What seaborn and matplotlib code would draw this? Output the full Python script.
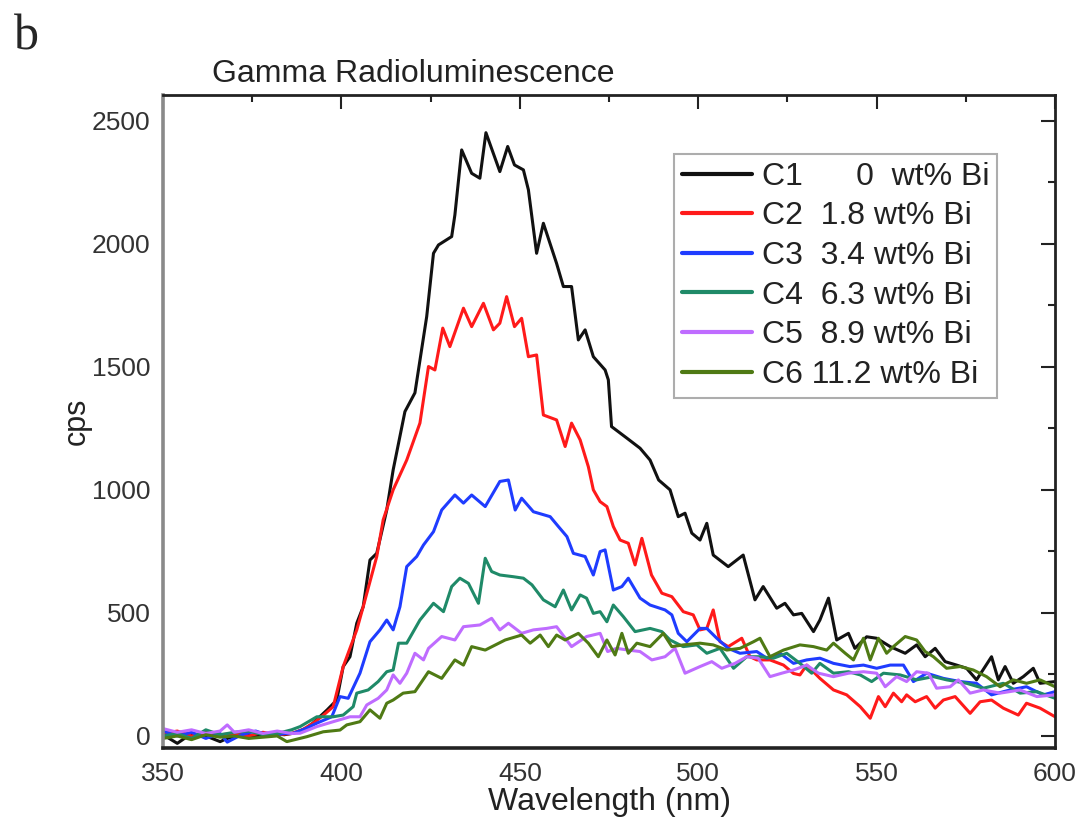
import numpy as np
import pandas as pd
import matplotlib
matplotlib.use("Agg")
import matplotlib.pyplot as plt
import seaborn as sns
from matplotlib.ticker import MultipleLocator

# wavelength (nm) / counts per second
c1_wl = [350, 354, 358, 362, 366, 368, 372, 376, 380, 384, 386.5, 390, 392, 396, 398.7, 400.5, 402.4, 404.3,
         406.1, 408, 409.9, 412.7, 414.5, 417.8, 420.6, 423.9, 425.8, 427.2, 430.9, 431.8, 433.7, 436.5, 438.8,
         440.5, 444.4, 446.6, 448.5, 451, 452.4, 454.7, 456.6, 460.3, 462.2, 464.5, 466.4, 468.3, 470.6, 473.9,
         474.8, 475.7, 480, 483.7, 486.5, 488.9, 492.1, 494.4, 496.3, 498.2, 500.5, 502.4, 504.2, 508.4, 512.6,
         515.9, 518.2, 522, 524.3, 526.7, 529, 532.3, 534.1, 536.5, 538.8, 542.1, 543.9, 547.2, 550, 553.8, 558,
         561.2, 563.6, 566.4, 569.2, 572.4, 575.2, 578, 582.2, 584.1, 586, 588.3, 591.1, 593.9, 595.8, 600]
c1_cps = [5, -30, 10, 0, -23, -10, 5, 0, 10, 5, 11, 30, 52, 106, 146, 282, 322, 458,
          525, 715, 742, 918, 1081, 1318, 1394, 1704, 1961, 1995, 2029, 2117, 2381, 2286, 2266,
          2451, 2293, 2395, 2320, 2300, 2219, 1961, 2083, 1920, 1826, 1826, 1609, 1650, 1541, 1487,
          1447, 1257, 1210, 1169, 1121, 1040, 1000, 891, 905, 824, 796, 864, 735, 688, 735,
          553, 607, 519, 539, 492, 498, 424, 471, 560, 390, 417, 356, 403, 397, 363, 336,
          370, 322, 356, 302, 288, 275, 228, 322, 228, 282, 214, 241, 275, 214, 221]

c2_wl = [350, 354, 358, 362, 366, 370, 374, 378, 382, 386, 389, 392.1, 395, 397.7, 400.5, 404.3, 406.1, 409.9,
         411.7, 414.5, 418.3, 422, 424.4, 426.2, 428.4, 430.4, 434.2, 436.5, 439.8, 442.6, 444.4, 446.3, 448.5,
         450.5, 452.4, 454.7, 456.6, 460.3, 462.7, 464.5, 466.9, 469.2, 470.6, 472.5, 474.4, 476.2, 478.1, 480.4,
         482.3, 484.2, 486.9, 489.8, 492.6, 495.8, 498.6, 500.5, 502.4, 504.2, 506.1, 508.4, 512.2, 514.5, 516.4,
         520.1, 523.9, 526.7, 528.5, 530.4, 534.1, 537.9, 541.6, 545.4, 548.2, 550.5, 552.4, 554.7, 557, 558.4,
         560.8, 564, 566.4, 568.7, 572, 576.2, 579, 582.2, 585.5, 589.7, 592, 595.8, 600]
c2_cps = [10, 20, 0, 15, 5, 10, 0, 15, 5, 10, 25, 52, 85, 119, 282, 431, 525, 729,
          878, 1000, 1121, 1271, 1501, 1487, 1657, 1582, 1738, 1663, 1758, 1650, 1677, 1785, 1663,
          1697, 1541, 1548, 1304, 1284, 1176, 1271, 1203, 1094, 1000, 952, 932, 851, 796, 783,
          695, 803, 654, 580, 566, 505, 492, 431, 437, 512, 383, 363, 397, 322, 309,
          309, 288, 254, 248, 288, 234, 187, 167, 119, 72, 160, 119, 174, 139, 167,
          139, 160, 113, 146, 160, 92, 139, 146, 113, 85, 133, 113, 78]

c3_wl = [350, 354, 358, 362, 366, 368, 372, 376, 380, 384, 386.5, 390, 393.1, 397.3, 399.6, 401.9, 405.2, 408,
         410.8, 412.7, 414.5, 416.4, 418.3, 421.1, 423, 425.8, 428.1, 431.8, 434.2, 436.5, 440.3, 444.4, 446.8,
         448.7, 450.5, 453.8, 458.5, 460.8, 463.2, 465, 468.3, 470.6, 472.5, 473.9, 476.2, 478.6, 480.4, 483.7,
         486.5, 490.7, 492.6, 494.4, 496.8, 500.5, 502.4, 505.2, 508.4, 511.7, 516.4, 519.2, 522.9, 526.7, 530.4,
         534.1, 537.9, 542.5, 546.3, 550, 553.8, 557.5, 560.3, 564, 568.7, 573.4, 578, 582.2, 587.4, 592, 596.7,
         600]
c3_cps = [20, 0, 15, -10, 10, -25, 5, 20, 0, 10, 11, 30, 52, 78, 160, 153, 255, 383,
          431, 471, 431, 525, 688, 729, 776, 830, 918, 979, 946, 979, 932, 1034, 1040,
          918, 966, 911, 891, 851, 810, 742, 729, 654, 749, 756, 593, 607, 641, 560,
          532, 512, 492, 417, 383, 437, 437, 397, 356, 336, 343, 316, 336, 295, 309,
          316, 295, 282, 288, 275, 288, 288, 221, 255, 234, 221, 214, 167, 187, 200, 167,
          180]

c4_wl = [350, 354, 358, 362, 366, 370, 374, 378, 382, 386, 388.4, 393.1, 397.7, 400.5, 403.3, 404.3, 407.5,
         410.3, 412.7, 414.5, 416, 418.3, 422, 425.8, 428.6, 430.9, 433.2, 435.6, 438.4, 440.3, 442.1, 444.4,
         448.2, 451, 453.4, 456.6, 459.9, 462.2, 464.5, 466.9, 468.7, 470.6, 472.5, 474.4, 476.2, 479, 482.3,
         486.5, 489.8, 492.1, 495.8, 499.6, 502.4, 506.1, 509.9, 513.6, 517.3, 521.1, 524.8, 528.5, 531.8, 534.1,
         537.9, 542.1, 545.4, 548.6, 551.9, 556.6, 561.2, 565.9, 569.6, 575.2, 579.9, 585.5, 590.2, 594.9, 600]
c4_cps = [0, 10, -10, 25, 5, 15, 20, 5, 10, 25, 38, 78, 78, 85, 119, 174, 187,
          221, 261, 268, 377, 377, 471, 539, 505, 607, 641, 620, 539, 722, 668, 654,
          647, 641, 614, 553, 525, 593, 512, 573, 560, 498, 505, 464, 532, 485, 424,
          437, 424, 390, 363, 370, 336, 356, 275, 322, 322, 316, 336, 295, 255, 295,
          255, 261, 248, 221, 255, 248, 228, 241, 228, 214, 194, 214, 174, 180, 153]

c5_wl = [350, 354, 358, 362, 366, 368, 370, 374, 378, 382, 386, 388.4, 393.1, 397.7, 402.4, 405.2, 407.1,
         410.3, 412.7, 414.5, 416.4, 418.3, 420.6, 423, 424.4, 428.1, 431.8, 434.2, 438.8, 442.1, 444.4, 446.8,
         450.5, 453.8, 457.5, 460.3, 464.5, 468.7, 472.5, 474.6, 477.1, 480.4, 483.7, 487, 490.7, 493.5, 496.3,
         500.5, 503.8, 506.6, 510.3, 513.6, 516.8, 520.1, 523.4, 526.7, 530.4, 533.7, 537.9, 542.1, 546.3, 550,
         552.4, 555.6, 558.4, 561.2, 564.5, 566.8, 570.6, 572.9, 576.2, 579.9, 584.6, 590.2, 594.9, 600]
c5_cps = [30, 15, 25, 10, 20, 45, 15, 25, 10, 20, 10, 11, 38, 58, 78, 78, 126,
          153, 187, 248, 214, 255, 336, 309, 356, 404, 390, 444, 451, 478, 431, 458,
          417, 431, 437, 444, 363, 404, 417, 343, 356, 349, 343, 309, 322, 356, 255,
          282, 302, 275, 295, 322, 316, 241, 255, 268, 288, 255, 241, 255, 261, 255,
          200, 241, 221, 261, 255, 194, 200, 228, 174, 187, 174, 187, 160, 167]

c6_wl = [350, 354, 358, 362, 366, 370, 374, 378, 382, 384.7, 390.3, 394.9, 399.6, 401.5, 405.2, 408, 410.8,
         412.7, 414.5, 417.3, 420.6, 424.4, 428.1, 431.8, 434.2, 436.5, 440.3, 445.9, 450.5, 452.9, 455.7, 458,
         460.3, 462.7, 466.4, 469.2, 472, 474.4, 476.7, 478.6, 480.4, 482.8, 486.5, 490.2, 492.6, 495.8, 500.5,
         504.2, 508, 511.7, 515.5, 517.3, 520.1, 523.9, 528.5, 532.3, 536, 537.9, 541.2, 543.5, 546.3, 548.2,
         550.5, 552.8, 554.7, 558, 561.2, 563.6, 565.9, 569.6, 573.4, 577.1, 580.8, 584.6, 588.3, 592, 595.8, 600]
c6_cps = [-10, 0, -15, 5, -5, 0, -10, -5, 0, -23, -3, 17, 24, 45, 58, 106, 72,
          133, 146, 174, 180, 261, 234, 309, 288, 363, 349, 390, 410, 377, 410, 363,
          410, 390, 417, 377, 322, 390, 329, 417, 336, 377, 363, 417, 363, 370, 377,
          370, 349, 356, 383, 397, 322, 349, 370, 363, 349, 377, 336, 309, 397, 309,
          397, 336, 363, 404, 390, 343, 322, 275, 282, 268, 241, 200, 228, 214, 228, 200]

labels = ["C1      0  wt% Bi", "C2  1.8 wt% Bi", "C3  3.4 wt% Bi",
          "C4  6.3 wt% Bi", "C5  8.9 wt% Bi", "C6 11.2 wt% Bi"]
colors = ["#111111", "#ff1a1a", "#1f3cff", "#1f8a68", "#bf6cff", "#4f7a14"]

series = [(c1_wl, c1_cps), (c2_wl, c2_cps), (c3_wl, c3_cps),
          (c4_wl, c4_cps), (c5_wl, c5_cps), (c6_wl, c6_cps)]
frames = []
for lab, (wl, cps) in zip(labels, series):
    frames.append(pd.DataFrame({"wl": wl, "cps": cps, "sample": lab}))
df = pd.concat(frames, ignore_index=True)

sns.set_style("white")
plt.rcParams["font.family"] = ["Liberation Sans", "DejaVu Sans"]

fig = plt.figure(figsize=(10.81, 8.25), dpi=100)
ax = fig.add_axes([0.1508, 0.0933, 0.8252, 0.7915])

sns.lineplot(data=df, x="wl", y="cps", hue="sample", hue_order=labels,
             palette=dict(zip(labels, colors)), estimator=None, sort=False,
             linewidth=2.2, ax=ax)

ax.set_xlim(350, 600)
ax.set_ylim(-49, 2604)
ax.xaxis.set_major_locator(MultipleLocator(50))
ax.xaxis.set_minor_locator(MultipleLocator(25))
ax.yaxis.set_major_locator(MultipleLocator(500))
ax.yaxis.set_minor_locator(MultipleLocator(250))
ax.tick_params(which="both", direction="in", top=True, right=True,
               colors="#222222", labelcolor="#333333", width=1.5)
ax.tick_params(which="major", length=10, labelsize=19)
ax.tick_params(which="minor", length=5)
ax.tick_params(axis="x", pad=10)
ax.tick_params(axis="y", pad=9)

for side in ["top", "right", "bottom"]:
    ax.spines[side].set_color("#222222")
    ax.spines[side].set_linewidth(2)
ax.spines["bottom"].set_linewidth(2.6)
ax.spines["left"].set_color("#8a8a8a")
ax.spines["left"].set_linewidth(2.6)

ax.set_xlabel("Wavelength (nm)", fontsize=23, color="#222222")
ax.set_ylabel("cps", fontsize=22, color="#222222")
ax.xaxis.set_label_coords(0.5, -0.06)
ax.yaxis.set_label_coords(-0.08, 0.5)

leg = ax.legend(loc="upper right", bbox_to_anchor=(0.935, 0.91), borderaxespad=0,
                fontsize=23, frameon=True, fancybox=False, edgecolor="#999999",
                handlelength=2.2, handletextpad=0.3, labelspacing=0.3,
                borderpad=0.25, title=None)
leg.get_frame().set_linewidth(1.5)
for t in leg.get_texts():
    t.set_color("#222222")
for h in leg.get_lines():
    h.set_linewidth(3)

fig.text(212 / 1081, 1 - 82 / 825, "Gamma Radioluminescence", fontsize=23,
         color="#222222", va="baseline", ha="left")
fig.text(14 / 1081, 1 - 50 / 825, "b", fontsize=36, family="Liberation Serif",
         va="baseline", ha="left")

fig.savefig("out.png", dpi=100)
